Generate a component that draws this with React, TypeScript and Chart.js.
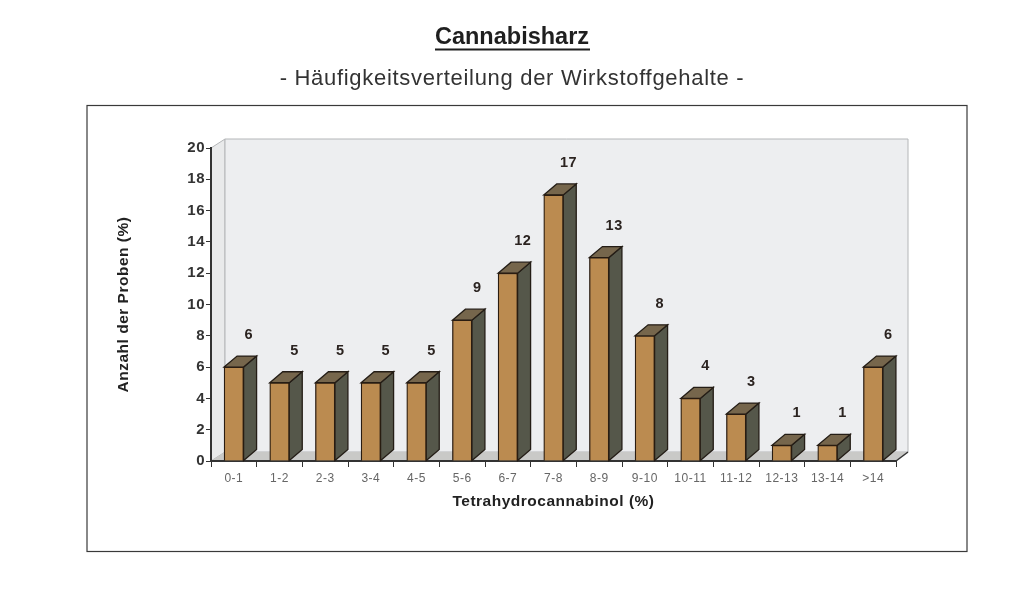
import React, { useEffect, useRef } from "react";
import { Chart, registerables } from "chart.js";

Chart.register(...registerables);

const categories = ["0-1", "1-2", "2-3", "3-4", "4-5", "5-6", "6-7", "7-8", "8-9", "9-10", "10-11", "11-12", "12-13", "13-14", ">14"];
const sharePercent = [6, 5, 5, 5, 5, 9, 12, 17, 13, 8, 4, 3, 1, 1, 6];
const titleText = "Cannabisharz";
const subtitleText = "- Häufigkeitsverteilung der Wirkstoffgehalte -";
const xAxisTitle = "Tetrahydrocannabinol (%)";
const yAxisTitle = "Anzahl der Proben (%)";

const FONT = "'Liberation Sans', Arial, sans-serif";
const WALL_DX = 14;
const WALL_DY = 9;
const BAR_DX = 13;
const BAR_DY = 11;
const INK = "#2b2320";

function poly(ctx: CanvasRenderingContext2D, pts: number[][], fill: string, stroke?: string, lw = 1) {
  ctx.beginPath();
  pts.forEach((p, i) => (i ? ctx.lineTo(p[0], p[1]) : ctx.moveTo(p[0], p[1])));
  ctx.closePath();
  ctx.fillStyle = fill;
  ctx.fill();
  if (stroke) {
    ctx.strokeStyle = stroke;
    ctx.lineWidth = lw;
    ctx.stroke();
  }
}

const scenePlugin = {
  id: "scene",
  beforeDraw(chart: any) {
    const { ctx, chartArea: a } = chart;
    ctx.save();
    ctx.fillStyle = "#ffffff";
    ctx.fillRect(0, 0, chart.width, chart.height);
    ctx.strokeStyle = "#3a3a3a";
    ctx.lineWidth = 1.2;
    ctx.strokeRect(87, 105.5, 880, 446);
    ctx.textAlign = "center";
    ctx.textBaseline = "middle";
    ctx.fillStyle = "#1f1f1f";
    ctx.font = `bold 23.5px ${FONT}`;
    ctx.fillText(titleText, 512, 38);
    ctx.fillRect(435, 48.5, 155, 2);
    ctx.fillStyle = "#333333";
    ctx.font = `22px ${FONT}`;
    (ctx as any).letterSpacing = "0.7px";
    ctx.fillText(subtitleText, 512, 79);
    (ctx as any).letterSpacing = "0px";
    const wallEdge = "#b4b6b8";
    poly(ctx, [[a.left, a.top], [a.left + WALL_DX, a.top - WALL_DY], [a.left + WALL_DX, a.bottom - WALL_DY], [a.left, a.bottom]], "#e9eaeb", wallEdge);
    poly(ctx, [[a.left + WALL_DX, a.top - WALL_DY], [a.right + WALL_DX - 2, a.top - WALL_DY], [a.right + WALL_DX - 2, a.bottom - WALL_DY], [a.left + WALL_DX, a.bottom - WALL_DY]], "#edeef0", wallEdge);
    poly(ctx, [[a.left, a.bottom], [a.left + WALL_DX, a.bottom - WALL_DY], [a.right + WALL_DX - 2, a.bottom - WALL_DY], [a.right, a.bottom]], "#c9c9c7");
    ctx.strokeStyle = "#333333";
    ctx.lineWidth = 1.5;
    ctx.beginPath();
    ctx.moveTo(a.right, a.bottom);
    ctx.lineTo(a.right + WALL_DX - 2, a.bottom - WALL_DY);
    ctx.stroke();
    ctx.restore();
    // slightly wider tracking for the text the library draws on its axes
    (ctx as any).letterSpacing = "0.5px";
  },
  beforeDatasetsDraw(chart: any) {
    const { ctx } = chart;
    const meta = chart.getDatasetMeta(0);
    ctx.save();
    meta.data.forEach((bar: any) => {
      const l = bar.x - bar.width / 2;
      const r = bar.x + bar.width / 2;
      const t = bar.y;
      const b = bar.base;
      poly(ctx, [[r, t], [r + BAR_DX, t - BAR_DY], [r + BAR_DX, b - BAR_DY], [r, b]], "#55574a", "#241d16", 1.3);
      poly(ctx, [[l, t], [l + BAR_DX, t - BAR_DY], [r + BAR_DX, t - BAR_DY], [r, t]], "#76664c", "#241d16", 1.3);
    });
    ctx.restore();
  },
  afterDatasetsDraw(chart: any) {
    const { ctx } = chart;
    const meta = chart.getDatasetMeta(0);
    ctx.save();
    ctx.fillStyle = INK;
    ctx.font = `bold 14.5px ${FONT}`;
    ctx.textAlign = "center";
    ctx.textBaseline = "middle";
    meta.data.forEach((bar: any, i: number) => {
      ctx.fillText(String(sharePercent[i]), bar.x + 15, bar.y - 32);
    });
    ctx.restore();
  },
};

export default function App() {
  const ref = useRef<HTMLCanvasElement>(null);
  useEffect(() => {
    document.body.style.margin = "0";
    const chart = new Chart(ref.current as HTMLCanvasElement, {
      type: "bar",
      data: {
        labels: categories,
        datasets: [
          {
            data: sharePercent,
            backgroundColor: "#bb8b50",
            borderColor: "#2a1c10",
            borderWidth: 1.3,
            barThickness: 19.5,
          },
        ],
      },
      plugins: [scenePlugin],
      options: {
        responsive: false,
        animation: false,
        devicePixelRatio: 1,
        layout: { padding: { left: 114, right: 128, top: 148, bottom: 104 } },
        plugins: {
          legend: { display: false },
          tooltip: { enabled: false },
        },
        scales: {
          x: {
            offset: true,
            afterFit(scale: any) {
              scale.height = 50;
            },
            grid: { offset: true, drawOnChartArea: false, drawTicks: true, tickLength: 6, color: "#333333" },
            border: { color: "#333333", width: 2 },
            ticks: { color: "#666666", font: { family: FONT, size: 12 }, padding: 4, maxRotation: 0, autoSkip: false },
            title: { display: true, text: xAxisTitle, color: "#222222", font: { family: FONT, size: 15.5, weight: "bold" }, padding: { top: 7, bottom: 0 } },
          },
          y: {
            min: 0,
            max: 20,
            afterFit(scale: any) {
              scale.width = 97;
            },
            grid: { drawOnChartArea: false, drawTicks: true, tickLength: 5, color: "#333333" },
            border: { color: "#333333", width: 2 },
            ticks: { stepSize: 2, color: "#333333", font: { family: FONT, size: 15, weight: "bold" }, padding: 1 },
            title: { display: true, text: yAxisTitle, color: "#222222", font: { family: FONT, size: 15.5, weight: "bold" }, padding: 0 },
          },
        },
      } as any,
    });
    return () => chart.destroy();
  }, []);
  return (
    <canvas
      ref={ref}
      width={1024}
      height={615}
      style={{ display: "block", width: 1024, height: 615, filter: "blur(0.7px)" }}
    />
  );
}
